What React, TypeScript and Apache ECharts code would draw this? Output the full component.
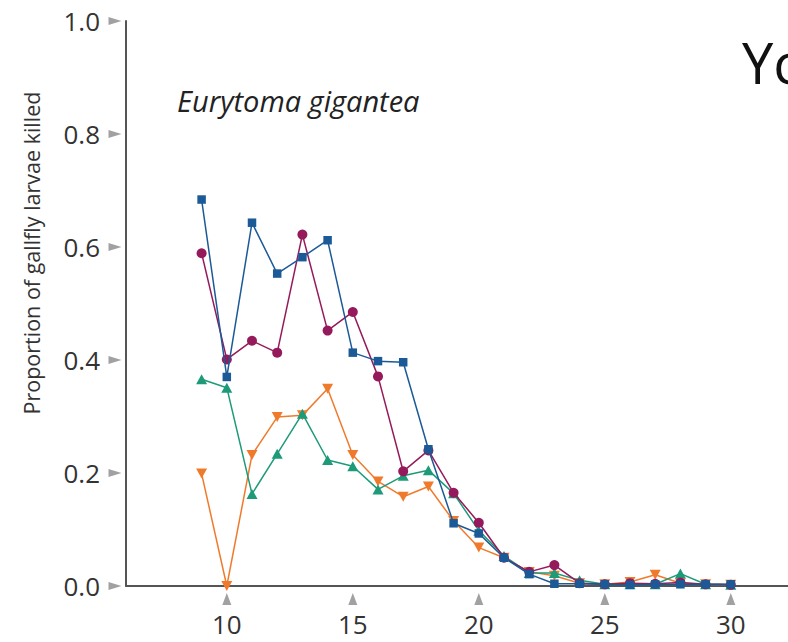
import React, { useEffect, useRef } from "react";
import * as echarts from "echarts";

// Host-plant / gall diameter classes (x) and proportions killed per series
const xValues = [9, 10, 11, 12, 13, 14, 15, 16, 17, 18, 19, 20, 21, 22, 23, 24, 25, 26, 27, 28, 29, 30];
const blueSquares = [0.684, 0.37, 0.643, 0.553, 0.582, 0.612, 0.413, 0.398, 0.396, 0.242, 0.111, 0.093, 0.05, 0.021, 0.004, 0.004, 0.003, 0.002, 0.003, 0.003, 0.003, 0.003];
const purpleCircles = [0.589, 0.401, 0.434, 0.413, 0.622, 0.452, 0.485, 0.371, 0.203, 0.24, 0.165, 0.112, 0.05, 0.025, 0.037, 0.005, 0.003, 0.005, 0.004, 0.006, 0.003, 0.002];
const greenTriangles = [0.366, 0.351, 0.163, 0.234, 0.305, 0.223, 0.212, 0.171, 0.195, 0.205, 0.164, 0.098, 0.053, 0.023, 0.023, 0.01, 0.003, 0.003, 0.003, 0.022, 0.003, 0.002];
const orangeTriangles = [0.199, 0.0, 0.232, 0.299, 0.302, 0.349, 0.232, 0.185, 0.158, 0.176, 0.115, 0.068, 0.05, 0.025, 0.018, 0.005, 0.003, 0.007, 0.02, 0.005, 0.003, 0.002];

const xTickLabels = [10, 15, 20, 25, 30];
const yTickLabels = [0, 0.2, 0.4, 0.6, 0.8, 1.0];

const yTitle = "Proportion of gallfly larvae killed";
const speciesLabel = "Eurytoma gigantea";
const cornerLabel = "Yc";

const FONT = '"Open Sans", "Noto Sans", sans-serif';

export default function App() {
  const ref = useRef<HTMLDivElement>(null);

  useEffect(() => {
    const chart = echarts.init(ref.current!, null, { renderer: "svg" });

    const lineSeries = (
      name: string,
      values: number[],
      color: string,
      symbol: string,
      size: number | number[],
      rotate: number,
      z: number
    ) => ({
      name,
      type: "line",
      data: xValues.map((x, i) => [x, values[i]]),
      symbol,
      symbolSize: size,
      symbolRotate: rotate,
      showSymbol: true,
      clip: false,
      z,
      lineStyle: { color, width: 1.5 },
      itemStyle: { color, borderWidth: 0 },
    });

    chart.setOption({
      animation: false,
      backgroundColor: "#ffffff",
      grid: { left: 126, top: 21, right: 0, bottom: 56, containLabel: false },
      xAxis: {
        type: "value",
        min: 6,
        max: 32.27,
        interval: 1,
        axisLine: { show: true, onZero: false, lineStyle: { color: "#555555", width: 2 } },
        axisTick: { show: false },
        splitLine: { show: false },
        axisLabel: {
          fontSize: 26,
          fontFamily: FONT,
          color: "#333333",
          margin: 25,
          showMaxLabel: false,
          formatter: (v: number) => (xTickLabels.indexOf(v) >= 0 ? String(v) : ""),
        },
      },
      yAxis: {
        type: "value",
        min: 0,
        max: 1,
        interval: 0.2,
        axisLine: { show: true, lineStyle: { color: "#555555", width: 2 } },
        axisTick: { show: false },
        splitLine: { show: false },
        axisLabel: {
          fontSize: 26,
          fontFamily: FONT,
          color: "#333333",
          margin: 26,
          formatter: (v: number) => v.toFixed(1),
        },
      },
      series: [
        // tick pointers on the y axis
        {
          type: "scatter",
          data: yTickLabels.map((v) => [6, v]),
          symbol: "triangle",
          symbolSize: [8, 13],
          symbolRotate: -90,
          symbolOffset: [-11, 0],
          clip: false,
          silent: true,
          itemStyle: { color: "#8a8a8a" },
          z: 1,
        },
        // tick pointers on the x axis
        {
          type: "scatter",
          data: xTickLabels.map((v) => [v, 0]),
          symbol: "triangle",
          symbolSize: [9, 12],
          symbolOffset: [0, 13],
          clip: false,
          silent: true,
          itemStyle: { color: "#8a8a8a" },
          z: 1,
        },
        lineSeries("orange", orangeTriangles, "#f07a2c", "triangle", [11, 10], 180, 3),
        lineSeries("green", greenTriangles, "#1d9a78", "triangle", [11, 10], 0, 4),
        lineSeries("purple", purpleCircles, "#951a5c", "circle", 10, 0, 5),
        lineSeries("blue", blueSquares, "#1c5a97", "rect", 8.5, 0, 6),
      ],
      graphic: [
        {
          type: "text",
          x: 31,
          y: 253,
          rotation: Math.PI / 2,
          style: {
            text: yTitle,
            fontSize: 21.5,
            fontFamily: FONT,
            fill: "#333333",
            textAlign: "center",
            textVerticalAlign: "middle",
          },
        },
        {
          type: "text",
          x: 177,
          y: 100,
          style: {
            text: speciesLabel,
            fontSize: 29,
            fontStyle: "italic",
            fontFamily: FONT,
            fill: "#222222",
            textAlign: "left",
            textVerticalAlign: "middle",
          },
        },
        {
          type: "text",
          x: 742,
          y: 62,
          style: {
            text: cornerLabel,
            fontSize: 56,
            fontFamily: FONT,
            fill: "#111111",
            textAlign: "left",
            textVerticalAlign: "middle",
          },
        },
      ],
    });

    return () => chart.dispose();
  }, []);

  return (
    <div
      ref={ref}
      style={{ position: "fixed", left: 0, top: 0, width: 788, height: 642, background: "#ffffff" }}
    />
  );
}
